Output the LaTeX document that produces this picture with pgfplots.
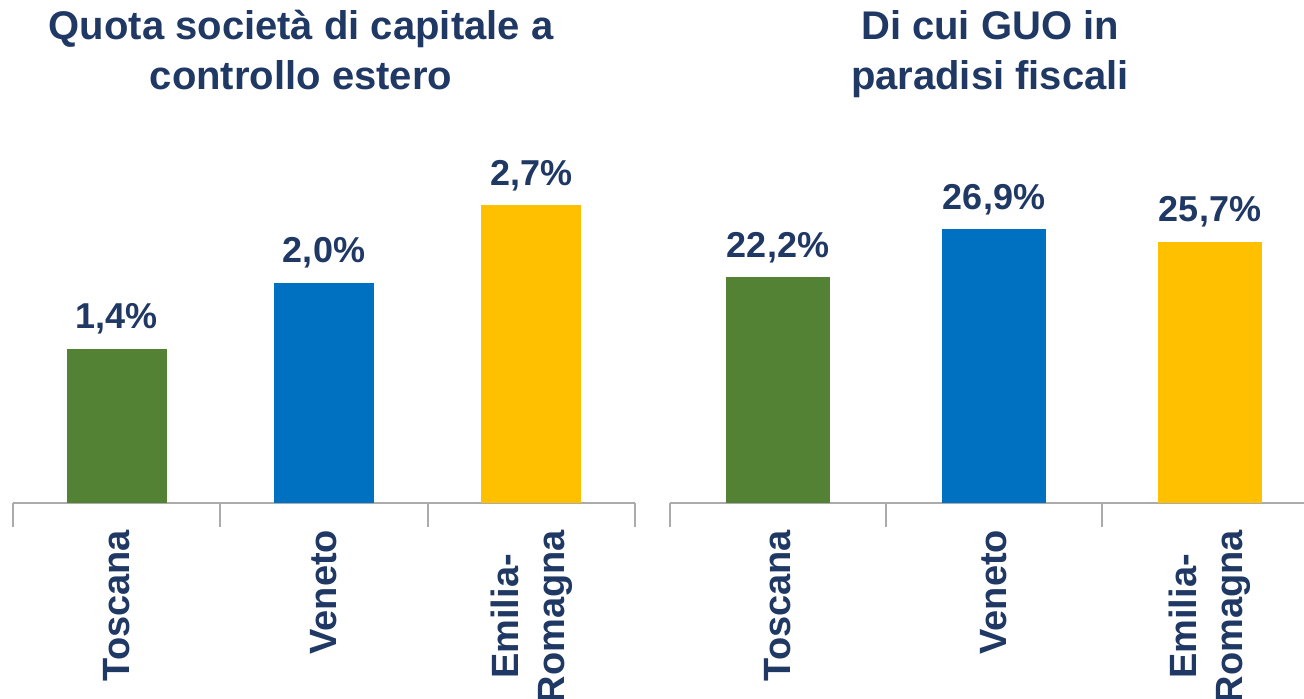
\documentclass[border=0pt]{standalone}
\usepackage{pgfplots}
\pgfplotsset{compat=1.18}
\usepackage{fontspec}
\setmainfont{Liberation Sans}
\definecolor{navy}{HTML}{1F3864}
\definecolor{cgreen}{HTML}{548235}
\definecolor{cblue}{HTML}{0070C0}
\definecolor{cgold}{HTML}{FFC000}
\definecolor{axgray}{HTML}{ABABAB}
\pgfplotsset{
  panel/.style={
    scale only axis,
    anchor=south west,
    axis x line*=bottom,
    axis y line=none,
    x axis line style={-, draw=axgray, line width=1pt},
    xmin=-0.5, xmax=2.5, ymin=0,
    xtick={0,1,2},
    major tick length=0pt,
    minor xtick={-0.5,0.5,1.5,2.5},
    minor tick length=12pt,
    tick align=center,
    minor tick style={draw=axgray, line width=1pt},
    xticklabels={Toscana,Veneto,{Emilia-\\Romagna}},
    xticklabel style={rotate=90, anchor=east, inner sep=0pt, align=center,
      font=\fontsize{19pt}{23pt}\selectfont\bfseries, text=navy},
    xticklabel shift=13pt,
    ybar, bar shift=0pt,
    /pgf/number format/assume math mode=true,
    nodes near coords={\pgfmathprintnumber[fixed,fixed zerofill,precision=1,use comma]{\pgfplotspointmeta}\%},
    every node near coord/.append style={anchor=base, yshift=10pt, inner sep=0pt,
      font=\fontsize{18pt}{22pt}\selectfont\bfseries, text=navy},
    clip=false,
  }
}
\begin{document}
\begin{tikzpicture}
\useasboundingbox (0pt,0pt) rectangle (652pt,349.5pt);
\clip (0pt,0pt) rectangle (652pt,349.5pt);
\begin{axis}[panel, at={(6.5pt,97.75pt)}, width=311pt, height=165.7pt, ymax=3, bar width=50pt]
\addplot[fill=cgreen, draw=none] coordinates {(0,1.4)};
\addplot[fill=cblue, draw=none] coordinates {(1,2.0)};
\addplot[fill=cgold, draw=none] coordinates {(2,2.7)};
\end{axis}
\begin{axis}[panel, at={(335pt,97.75pt)}, width=324pt, height=152.85pt, ymax=30, bar width=52pt]
\addplot[fill=cgreen, draw=none] coordinates {(0,22.2)};
\addplot[fill=cblue, draw=none] coordinates {(1,26.9)};
\addplot[fill=cgold, draw=none] coordinates {(2,25.7)};
\end{axis}
\node[anchor=north, align=center, inner sep=0pt, text=navy, font=\fontsize{20pt}{25pt}\selectfont\bfseries] at (150.5pt,344.5pt) {Quota società di capitale a\\controllo estero};
\node[anchor=north, align=center, inner sep=0pt, text=navy, font=\fontsize{20pt}{25pt}\selectfont\bfseries] at (495pt,344.5pt) {Di cui GUO in\\paradisi fiscali};
\end{tikzpicture}
\end{document}
